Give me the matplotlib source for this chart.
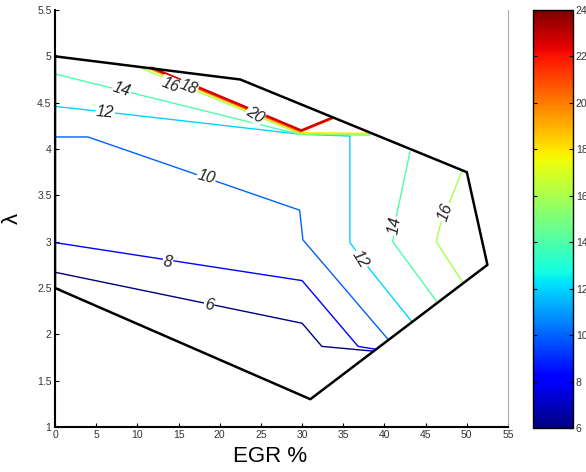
import numpy as np
import matplotlib
matplotlib.use("Agg")
import matplotlib.pyplot as plt
from matplotlib import cm, colors

plt.rcParams['font.family'] = ['Liberation Sans', 'DejaVu Sans']

# boundary of the operating region (EGR %, lambda)
bnd_x = [0, 22.5, 50, 52.5, 31, 0]
bnd_y = [5, 4.75, 3.75, 2.75, 1.3, 2.5]

# contour polylines
c6_x = [0, 30.0, 32.4, 38.5]
c6_y = [2.67, 2.12, 1.87, 1.82]
c8_x = [0, 30.0, 36.8, 38.9]
c8_y = [2.99, 2.58, 1.87, 1.84]
c10_x = [0, 4.0, 29.7, 30.1, 40.4]
c10_y = [4.13, 4.13, 3.34, 3.02, 1.95]
c12_x = [0, 9.1, 29.7, 35.8, 35.8, 38.5, 43.3]
c12_y = [4.46, 4.37, 4.16, 4.14, 2.99, 2.67, 2.14]
c14a_x = [0, 29.6, 38.2]
c14a_y = [4.81, 4.16, 4.15]
c14b_x = [43.1, 41.6, 41.0, 46.3]
c14b_y = [3.97, 3.34, 3.00, 2.36]
c16a_x = [10.0, 29.7, 38.2]
c16a_y = [4.89, 4.165, 4.16]
c16b_x = [49.4, 46.7, 46.3, 49.5]
c16b_y = [3.76, 3.16, 3.00, 2.56]
c18_x = [11.0, 29.8, 38.2]
c18_y = [4.88, 4.175, 4.17]
c20_x = [11.5, 29.8, 33.6]
c20_y = [4.875, 4.19, 4.33]
c22_x = [11.8, 29.9, 33.6]
c22_y = [4.875, 4.20, 4.335]

lines = [(6, c6_x, c6_y), (8, c8_x, c8_y), (10, c10_x, c10_y),
         (12, c12_x, c12_y), (14, c14a_x, c14a_y), (14, c14b_x, c14b_y),
         (16, c16a_x, c16a_y), (16, c16b_x, c16b_y), (18, c18_x, c18_y),
         (20, c20_x, c20_y), (22.6, c22_x, c22_y)]

# inline labels
lab_text = ['6', '8', '10', '12', '14', '16', '18', '20', '12', '14', '16']
lab_x = [18.7, 13.7, 18.4, 6.1, 8.1, 14.0, 16.2, 24.3, 37.1, 41.2, 47.4]
lab_y = [2.32, 2.78, 3.70, 4.40, 4.64, 4.69, 4.665, 4.37, 2.81, 3.17, 3.32]
lab_rot = [-8, -8, -15, -5, -18, -22, -22, -32, -58, 80, 70]

vmin, vmax = 6, 24
cb_ticks = [6, 8, 10, 12, 14, 16, 18, 20, 22, 24]

fig = plt.figure(figsize=(5.86, 4.72), dpi=100)
ax = fig.add_axes([0.0939, 0.0953, 0.773, 0.8835])
norm = colors.Normalize(vmin=vmin, vmax=vmax)
cmap = plt.get_cmap('jet')

for lev, xs, ys in lines:
    lw = 1.0
    if lev >= 20:
        lw = 1.8
    ax.plot(xs, ys, color=cmap(norm(lev)), lw=lw, zorder=2)

ax.plot(bnd_x + [bnd_x[0]], bnd_y + [bnd_y[0]], color='black', lw=1.8, zorder=3)

for t, x, y, r in zip(lab_text, lab_x, lab_y, lab_rot):
    ax.text(x, y, t, rotation=r, ha='center', va='center', fontsize=11.5,
            style='italic', color='#222222', zorder=4,
            bbox=dict(boxstyle='square,pad=0.05', fc='white', ec='none'))

ax.set_xlim(0, 55)
ax.set_ylim(1, 5.5)
ax.set_xticks(np.arange(0, 56, 5))
ax.set_yticks([1, 1.5, 2, 2.5, 3, 3.5, 4, 4.5, 5, 5.5])
ax.set_yticklabels(['1', '1.5', '2', '2.5', '3', '3.5', '4', '4.5', '5', '5.5'])
ax.tick_params(direction='in', length=3, width=0.8, labelsize=7.5,
               labelcolor='#333333', pad=2.5)
ax.spines['top'].set_visible(False)
ax.spines['right'].set_color('#aaaaaa')
ax.spines['right'].set_linewidth(0.8)
ax.spines['left'].set_linewidth(1.5)
ax.spines['bottom'].set_linewidth(1.5)
ax.set_xlabel('EGR %', fontsize=16)
ax.xaxis.set_label_coords(0.475, -0.045)
ax.set_ylabel('λ', fontsize=16)
ax.yaxis.set_label_coords(-0.07, 0.5)

cax = fig.add_axes([0.9096, 0.0932, 0.0683, 0.8856])
sm = cm.ScalarMappable(norm=norm, cmap=cmap)
cb = fig.colorbar(sm, cax=cax, ticks=cb_ticks)
cb.outline.set_linewidth(1.0)
cax.tick_params(direction='in', length=3, width=0.8, labelsize=7.5,
                labelcolor='#333333', pad=2, left=True, right=True)

fig.savefig('out.png', dpi=100)
